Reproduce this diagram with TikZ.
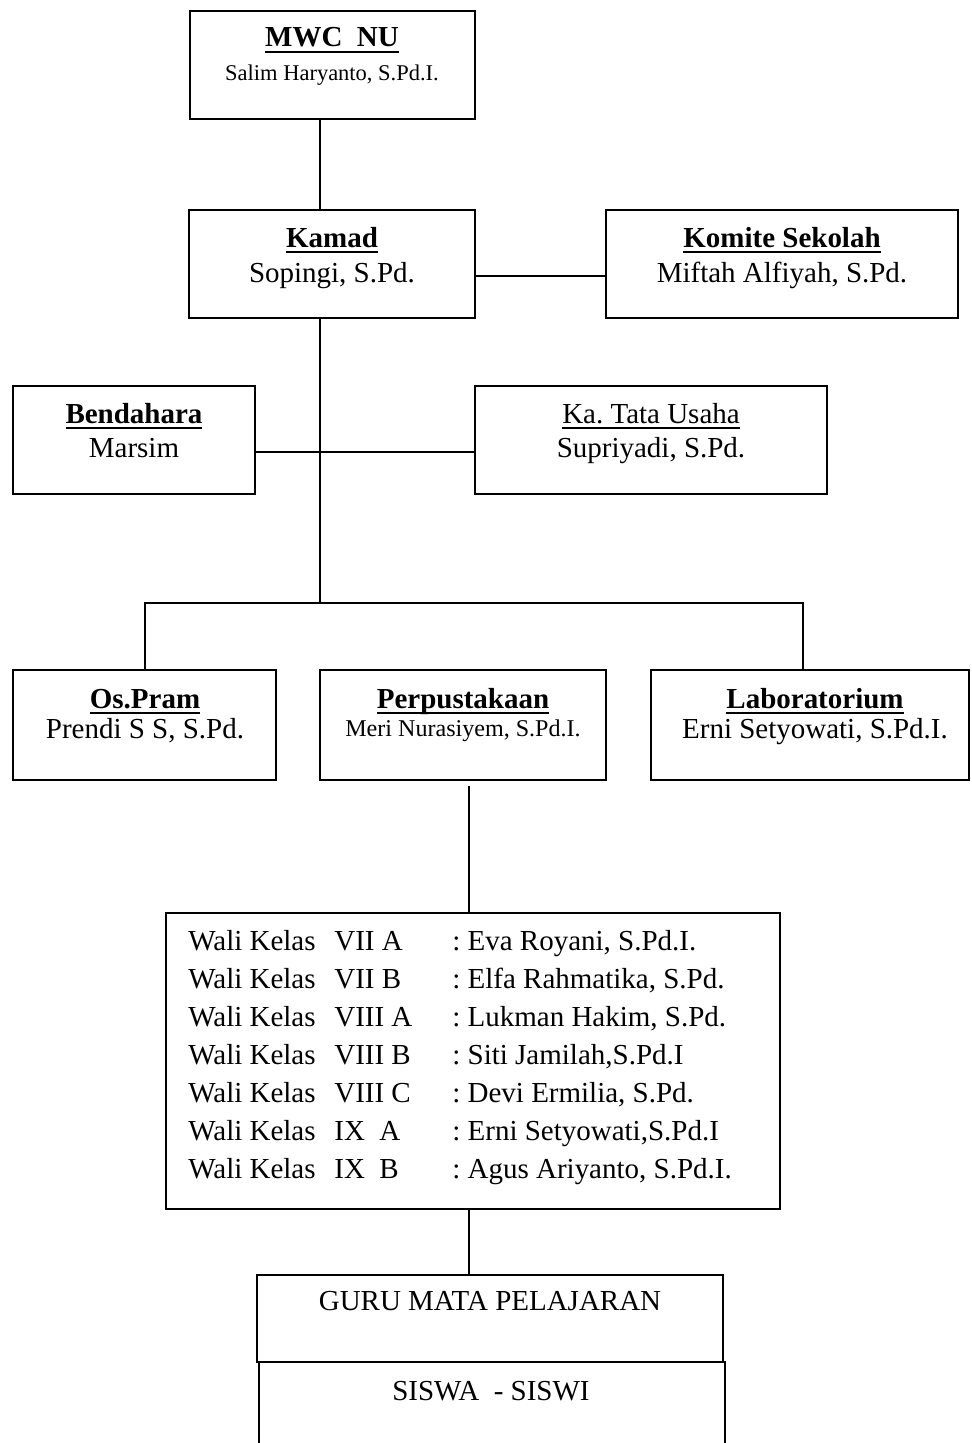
\documentclass[tikz,border=0pt]{standalone}
\usepackage{fontspec}
\setmainfont{Liberation Serif}
\usetikzlibrary{fit,calc}
\frenchspacing
\newcommand{\ulhead}[1]{\setbox0\hbox{#1}\rlap{\rule[-3.2pt]{\wd0}{0.9pt}}\box0}
\tikzset{%
    orgbox/.style={draw, line width=0.9pt, inner sep=0pt},
    headtxt/.style={anchor=base, font=\fontsize{16.5}{19}\selectfont\bfseries},
    nametxt/.style={anchor=base, font=\fontsize{16.5}{19}\selectfont},
    smalltxt/.style={anchor=base, font=\fontsize{12.8}{15}\selectfont},
    rowtxt/.style={anchor=base west, inner sep=0pt, font=\fontsize{16.5}{19}\selectfont},
    link/.style={line width=0.8pt}
}

\begin{document}
\begin{tikzpicture}[x=0.02cm, y=-0.02cm]
      \clip (0,0) rectangle (971,1443);

      % boxes
      \node[orgbox, fit={(190,11) (475,119)}] (mwc) {};
      \node[orgbox, fit={(189,210) (475,318)}] (kamad) {};
      \node[orgbox, fit={(606,210) (958,318)}] (komite) {};
      \node[orgbox, fit={(13,386) (255,494)}] (bend) {};
      \node[orgbox, fit={(475,386) (827,494)}] (tata) {};
      \node[orgbox, fit={(13,670) (276,780)}] (osp) {};
      \node[orgbox, fit={(320,670) (606,780)}] (perp) {};
      \node[orgbox, fit={(651,670) (969,780)}] (lab) {};
      \node[orgbox, fit={(166,913) (780,1209)}] (wali) {};
      \node[orgbox, fit={(257,1275) (723,1362)}] (guru) {};
      \node[orgbox, fit={(259,1362) (725,1480)}] (siswa) {};

      % texts
      \node[headtxt] (mwcT) at (332,47) {\ulhead{MWC\enspace NU}};
      \node[smalltxt] (mwcN) at (332,81) {Salim Haryanto, S.Pd.I.};
      \node[headtxt] (kamadT) at (332,247) {\ulhead{Kamad}};
      \node[nametxt] (kamadN) at (332,282) {Sopingi, S.Pd.};
      \node[headtxt] (komiteT) at (782,247) {\ulhead{Komite Sekolah}};
      \node[nametxt] (komiteN) at (782,282) {Miftah Alfiyah, S.Pd.};
      \node[headtxt] (bendT) at (134,423) {\ulhead{Bendahara}};
      \node[nametxt] (bendN) at (134,457) {Marsim};
      \node[nametxt] (tataT) at (651,423) {\ulhead{Ka. Tata Usaha}};
      \node[nametxt] (tataN) at (651,457) {Supriyadi, S.Pd.};
      \node[headtxt] (ospT) at (145,708) {\ulhead{Os.Pram}};
      \node[nametxt] (ospN) at (145,738) {Prendi S S, S.Pd.};
      \node[headtxt] (perpT) at (463,708) {\ulhead{Perpustakaan}};
      \node[anchor=base, font=\fontsize{13.7}{16}\selectfont] (perpN) at (463,736) {Meri Nurasiyem, S.Pd.I.};
      \node[headtxt] (labT) at (815,708) {\ulhead{Laboratorium}};
      \node[nametxt] (labN) at (815,738) {Erni Setyowati, S.Pd.I.};
      \node[nametxt] (guruT) at (490,1310) {GURU MATA PELAJARAN};
      \node[nametxt] (siswaT) at (491,1400) {SISWA\ \ - SISWI};

      \foreach \cls/\nm [count=\r from 0] in {{VII A}/{Eva Royani, S.Pd.I.},
          {VII B}/{Elfa Rahmatika, S.Pd.}, {VIII A}/{Lukman Hakim, S.Pd.},
          {VIII B}/{Siti Jamilah,S.Pd.I}, {VIII C}/{Devi Ermilia, S.Pd.},
          {IX\ \ A}/{Erni Setyowati,S.Pd.I}, {IX\ \ B}/{Agus Ariyanto, S.Pd.I.}} {
        \node[rowtxt] (wk\r) at (188,{950+38*\r}) {Wali Kelas};
        \node[rowtxt] (wc\r) at (334,{950+38*\r}) {\cls};
        \node[rowtxt] (wn\r) at (452,{950+38*\r}) {: \nm};
      }

      % connectors
      \coordinate (spine) at (320,603);
      \coordinate (busL) at (145,603);
      \coordinate (busR) at (803,603);
      \coordinate (trunk) at (469,850);
      \draw[link] (mwc.south -| spine) -- (kamad.north -| spine);
      \draw[link] ($(kamad.east)+(0,12)$) -- ($(komite.west)+(0,12)$);
      \draw[link] (kamad.south -| spine) -- (spine);
      \draw[link] ($(bend.east)+(0,12)$) -- ($(tata.west)+(0,12)$);
      \draw[link] (osp.north -| busL) -- (busL) -- (busR) -- (lab.north -| busR);
      \draw[link] ($(perp.south -| trunk)+(0,5)$) -- (wali.north -| trunk);
      \draw[link] (wali.south -| trunk) -- (guru.north -| trunk);
    \end{tikzpicture}
\end{document}
